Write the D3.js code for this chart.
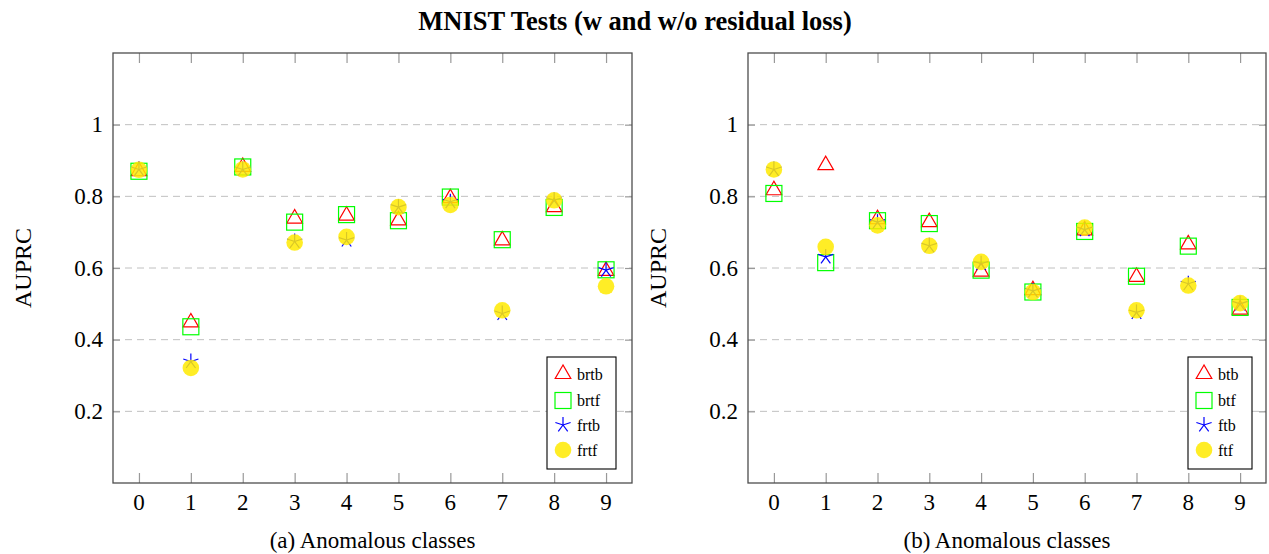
<!DOCTYPE html>
<html>
<head>
<meta charset="utf-8">
<script src="https://cdn.jsdelivr.net/npm/d3@7/dist/d3.min.js"></script>
<style>
  html, body { margin: 0; padding: 0; background: #fff; }
  svg { display: block; }
  text { font-family: "Liberation Serif", "DejaVu Serif", serif; fill: #000; }
</style>
</head>
<body>
<svg id="chart" width="1269" height="554"></svg>
<script>
// ---------- data ----------
const classes = [0, 1, 2, 3, 4, 5, 6, 7, 8, 9];
const yTicks = [0.2, 0.4, 0.6, 0.8, 1];
const yTickLabels = ["0.2", "0.4", "0.6", "0.8", "1"];

// Panel (a): with residual loss
const brtb = [0.870, 0.448, 0.882, 0.738, 0.746, 0.733, 0.795, 0.677, 0.770, 0.592];
const brtf = [0.870, 0.436, 0.882, 0.728, 0.749, 0.732, 0.798, 0.679, 0.769, 0.595];
const frtb = [0.875, 0.339, 0.875, 0.674, 0.678, 0.770, 0.785, 0.473, 0.789, 0.594];
const frtf = [0.874, 0.321, 0.875, 0.671, 0.687, 0.770, 0.776, 0.482, 0.789, 0.549];

// Panel (b): without residual loss
const btb = [0.817, 0.887, 0.736, 0.728, 0.590, 0.538, 0.705, 0.575, 0.666, 0.484];
const btf = [0.808, 0.615, 0.732, 0.724, 0.594, 0.533, 0.702, 0.577, 0.661, 0.490];
const ftb = [0.875, 0.631, 0.728, 0.662, 0.612, 0.536, 0.707, 0.476, 0.556, 0.500];
const ftf = [0.875, 0.659, 0.719, 0.662, 0.617, 0.533, 0.713, 0.482, 0.551, 0.502];

const seriesNamesA = ["brtb", "brtf", "frtb", "frtf"];
const seriesNamesB = ["btb", "btf", "ftb", "ftf"];
const markerKinds = ["triangle", "square", "star", "circle"];

const title = "MNIST Tests (w and w/o residual loss)";
const yLabel = "AUPRC";
const captions = ["(a) Anomalous classes", "(b) Anomalous classes"];

// ---------- drawing ----------
const svg = d3.select("#chart");
const colors = { triangle: "#ff0000", square: "#00ff00", star: "#0000ff", circle: "#ffea00" };

svg.append("text")
  .attr("x", 635).attr("y", 30)
  .attr("text-anchor", "middle")
  .style("font-size", "26.5px").style("font-weight", "bold")
  .text(title);

function drawMarker(g, kind, cx, cy) {
  if (kind === "triangle") {
    const r = 9;
    const pts = [[0, -r], [-r * 0.866, r * 0.5], [r * 0.866, r * 0.5]]
      .map(p => [cx + p[0], cy + p[1]].join(",")).join(" ");
    g.append("polygon").attr("points", pts)
      .attr("fill", "none").attr("stroke", colors.triangle).attr("stroke-width", 1.2);
  } else if (kind === "square") {
    const s = 16;
    g.append("rect").attr("x", cx - s / 2).attr("y", cy - s / 2)
      .attr("width", s).attr("height", s)
      .attr("fill", "none").attr("stroke", colors.square).attr("stroke-width", 1.2);
  } else if (kind === "star") {
    const r = 8;
    for (let k = 0; k < 5; k++) {
      const a = (-90 + k * 72) * Math.PI / 180;
      g.append("line").attr("x1", cx).attr("y1", cy)
        .attr("x2", cx + r * Math.cos(a)).attr("y2", cy + r * Math.sin(a))
        .attr("stroke", colors.star).attr("stroke-width", 1.2);
    }
  } else {
    g.append("circle").attr("cx", cx).attr("cy", cy).attr("r", 8.3)
      .attr("fill", colors.circle).attr("fill-opacity", 0.85).attr("stroke", "none");
  }
}

function panel(opts) {
  const { left, right, top, bottom, series, names, caption, legendBox, yLabelX } = opts;
  const g = svg.append("g");
  const x = d3.scaleLinear().domain([-0.5, 9.5]).range([left, right]);
  const y = d3.scaleLinear().domain([0, 1.2]).range([bottom, top]);

  // grid
  g.selectAll("line.grid").data(yTicks).enter().append("line")
    .attr("x1", left).attr("x2", right)
    .attr("y1", d => y(d)).attr("y2", d => y(d))
    .attr("stroke", "#c0c0c0").attr("stroke-width", 1)
    .attr("stroke-dasharray", "7,5");

  // y axes (left and right ticks, inside)
  const yAxisL = d3.axisRight(y).tickValues(yTicks).tickSize(7).tickFormat("");
  const gl = g.append("g").attr("transform", `translate(${left},0)`).call(yAxisL);
  const yAxisR = d3.axisLeft(y).tickValues(yTicks).tickSize(7).tickFormat("");
  const gr = g.append("g").attr("transform", `translate(${right},0)`).call(yAxisR);
  // x axes (bottom and top ticks, inside)
  const xAxisB = d3.axisTop(x).tickValues(classes).tickSize(10).tickFormat("");
  const gb = g.append("g").attr("transform", `translate(0,${bottom})`).call(xAxisB);
  const xAxisT = d3.axisBottom(x).tickValues(classes).tickSize(10).tickFormat("");
  const gt = g.append("g").attr("transform", `translate(0,${top})`).call(xAxisT);
  [gl, gr, gb, gt].forEach(a => {
    a.select(".domain").remove();
    a.selectAll(".tick line").attr("stroke", "#999").attr("stroke-width", 1.2);
  });

  // tick labels
  g.selectAll("text.yt").data(yTicks).enter().append("text")
    .attr("x", left - 10).attr("y", d => y(d) + 7.5)
    .attr("text-anchor", "end").style("font-size", "23px")
    .text((d, i) => yTickLabels[i]);
  g.selectAll("text.xt").data(classes).enter().append("text")
    .attr("x", d => x(d)).attr("y", bottom + 27)
    .attr("text-anchor", "middle").style("font-size", "23px")
    .text(d => d);

  // frame
  g.append("rect").attr("x", left).attr("y", top)
    .attr("width", right - left).attr("height", bottom - top)
    .attr("fill", "none").attr("stroke", "#4d4d4d").attr("stroke-width", 1.3);

  // y label
  g.append("text")
    .attr("transform", `translate(${yLabelX},${(top + bottom) / 2}) rotate(-90)`)
    .attr("text-anchor", "middle").style("font-size", "24px")
    .text(yLabel);

  // caption
  g.append("text").attr("x", (left + right) / 2).attr("y", 548)
    .attr("text-anchor", "middle").style("font-size", "23px")
    .text(caption);

  // markers
  const mg = g.append("g");
  series.forEach((vals, si) => {
    const kind = markerKinds[si];
    vals.forEach((v, i) => drawMarker(mg, kind, x(classes[i]), y(v)));
  });

  // legend
  const lg = g.append("g");
  lg.append("rect").attr("x", legendBox.x).attr("y", legendBox.y)
    .attr("width", legendBox.w).attr("height", legendBox.h)
    .attr("fill", "#fff").attr("stroke", "#000").attr("stroke-width", 1.1);
  const rowY = [374, 400.5, 425, 450];
  names.forEach((n, i) => {
    drawMarker(lg, markerKinds[i], legendBox.x + 16, rowY[i]);
    lg.append("text").attr("x", legendBox.x + 30).attr("y", rowY[i] + 5.5)
      .style("font-size", "16px").text(n);
  });
}

panel({
  left: 113, right: 632, top: 53, bottom: 483,
  series: [brtb, brtf, frtb, frtf], names: seriesNamesA,
  caption: captions[0],
  legendBox: { x: 547, y: 357, w: 69, h: 112 },
  yLabelX: 31
});
panel({
  left: 748, right: 1266, top: 53, bottom: 483,
  series: [btb, btf, ftb, ftf], names: seriesNamesB,
  caption: captions[1],
  legendBox: { x: 1188, y: 357, w: 64, h: 112 },
  yLabelX: 666
});
</script>
</body>
</html>
